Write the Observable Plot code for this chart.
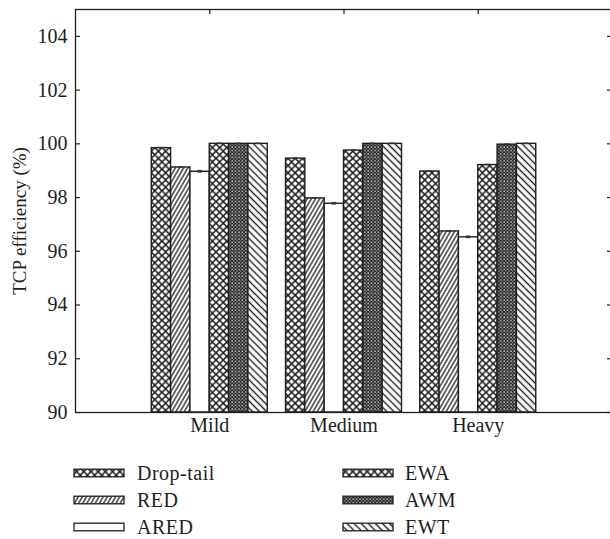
<!DOCTYPE html>
<html><head><meta charset="utf-8">
<script src="https://cdn.jsdelivr.net/npm/d3@7"></script>
<script src="https://cdn.jsdelivr.net/npm/@observablehq/plot@0.6"></script>
<style>
body{margin:0;background:#fff;font-family:"Liberation Serif","Times New Roman",serif;}
#wrap{position:relative;width:610px;height:539px;overflow:hidden;}
.lt{position:absolute;font-size:20px;line-height:20px;color:#1e1e1e;white-space:nowrap;letter-spacing:0.5px;}
.ls{position:absolute;}
</style></head><body>
<svg width="0" height="0" style="position:absolute">
  <defs>
    <pattern id="p-cross" width="7.2" height="7.2" patternUnits="userSpaceOnUse">
      <rect width="7.2" height="7.2" fill="#fff"/>
      <path d="M-1,-1L8.2,8.2M8.2,-1L-1,8.2" stroke="#1e1e1e" stroke-width="1.5"/>
    </pattern>
    <pattern id="p-red" width="3.6" height="10" patternUnits="userSpaceOnUse" patternTransform="rotate(30)">
      <rect width="3.6" height="10" fill="#fff"/>
      <line x1="1.8" y1="0" x2="1.8" y2="10" stroke="#1e1e1e" stroke-width="1.3"/>
    </pattern>
    <pattern id="p-white" width="4" height="4" patternUnits="userSpaceOnUse">
      <rect width="4" height="4" fill="#fff"/>
    </pattern>
    <pattern id="p-awm" width="3.4" height="3.4" patternUnits="userSpaceOnUse">
      <rect width="3.4" height="3.4" fill="#222"/>
      <rect x="0.3" y="0.3" width="1.3" height="1.3" fill="#fff"/>
      <rect x="2" y="2" width="1.1" height="1.1" fill="#ddd"/>
    </pattern>
    <pattern id="p-ewt" width="5" height="10" patternUnits="userSpaceOnUse" patternTransform="rotate(-45)">
      <rect width="5" height="10" fill="#fff"/>
      <line x1="2.5" y1="0" x2="2.5" y2="10" stroke="#1e1e1e" stroke-width="1.4"/>
    </pattern>
  </defs>
</svg>
<div id="wrap"></div>
<script>
const groups = ["Mild", "Medium", "Heavy"];
const series = ["Drop-tail", "RED", "ARED", "EWA", "AWM", "EWT"];
const patterns = ["url(#p-cross)", "url(#p-red)", "url(#p-white)", "url(#p-cross)", "url(#p-awm)", "url(#p-ewt)"];
const mildValues   = [99.84, 99.12, 98.96, 100.00, 100.00, 100.00];
const mediumValues = [99.45, 97.97, 97.77, 99.75, 100.00, 100.00];
const heavyValues  = [98.97, 96.74, 96.52, 99.21, 99.97, 100.00];
const mildErr   = [0.03, 0.03, 0.05, 0.03, 0.03, 0.03];
const mediumErr = [0.03, 0.03, 0.05, 0.03, 0.03, 0.03];
const heavyErr  = [0.03, 0.03, 0.05, 0.03, 0.03, 0.03];
const yTicks = [90, 92, 94, 96, 98, 100, 102, 104];
const yTitle = "TCP efficiency (%)";
const yMin = 90, yMax = 105;

const values = [mildValues, mediumValues, heavyValues];
const errs = [mildErr, mediumErr, heavyErr];
const rows = groups.flatMap((g, gi) => series.map((s, si) => ({
  group: g, gi, series: s, si, value: values[gi][si], err: errs[gi][si]
})));

const barW = 0.144;
const left = d => d.gi + 1 + (d.si - 3) * barW;
const center = d => left(d) + barW / 2;
const ink = "#1e1e1e";

const chart = Plot.plot({
  width: 610,
  height: 450,
  marginLeft: 75,
  marginRight: -2,
  marginTop: 9,
  marginBottom: 38,
  style: {fontFamily: "Liberation Serif, Times New Roman, serif", fontSize: "20px", color: "#1e1e1e", background: "#fff"},
  x: {domain: [0, 4], axis: null},
  y: {domain: [yMin, yMax], axis: null},
  color: {type: "ordinal", domain: series, range: patterns},
  marks: [
    Plot.rect(rows, {x1: left, x2: d => left(d) + barW, y1: () => yMin, y2: "value",
      fill: "series", stroke: ink, strokeWidth: 1.4}),
    Plot.rect(rows, {x1: d => center(d) - 0.017, x2: d => center(d) + 0.017,
      y1: d => d.value - d.err, y2: d => d.value + d.err, fill: "#333"}),
    Plot.frame({stroke: ink, strokeWidth: 1.3}),
    Plot.tickY(yTicks, {y: d => d, insetRight: 532, stroke: ink, strokeWidth: 1.2}),
    Plot.tickY(yTicks, {y: d => d, insetLeft: 532, stroke: ink, strokeWidth: 1.2}),
    Plot.tickX(groups, {x: (d, i) => i + 1, insetBottom: 398, stroke: ink, strokeWidth: 1.2}),
    Plot.text(yTicks, {y: d => d, frameAnchor: "left", dx: -8, textAnchor: "end", text: d => String(d), fontSize: 20}),
    Plot.text(groups, {x: (d, i) => i + 1, frameAnchor: "bottom", dy: 19, text: d => d, fontSize: 20, style: "letter-spacing:0.5px"}),
    Plot.text([yTitle], {frameAnchor: "left", textAnchor: "middle", dx: -56, dy: 10, rotate: -90, text: d => d, fontSize: 19})
  ]
});

const wrap = document.getElementById("wrap");
wrap.appendChild(chart);

const swX = [74, 343], txX = [137, 405], rowY = [473, 499.6, 526.8];
series.forEach((s, si) => {
  const col = si < 3 ? 0 : 1, row = si % 3;
  const sw = d3.select(wrap).append("svg").attr("class", "ls")
    .attr("width", 52).attr("height", 10)
    .style("left", (swX[col] - 1) + "px").style("top", (rowY[row] - 5) + "px");
  sw.append("rect").attr("x", 1).attr("y", 1.2).attr("width", 50).attr("height", 7.6)
    .attr("fill", patterns[si]).attr("stroke", ink).attr("stroke-width", 1.3);
  d3.select(wrap).append("div").attr("class", "lt")
    .style("left", txX[col] + "px").style("top", (rowY[row] - 10) + "px").text(s);
});
</script>
</body></html>
